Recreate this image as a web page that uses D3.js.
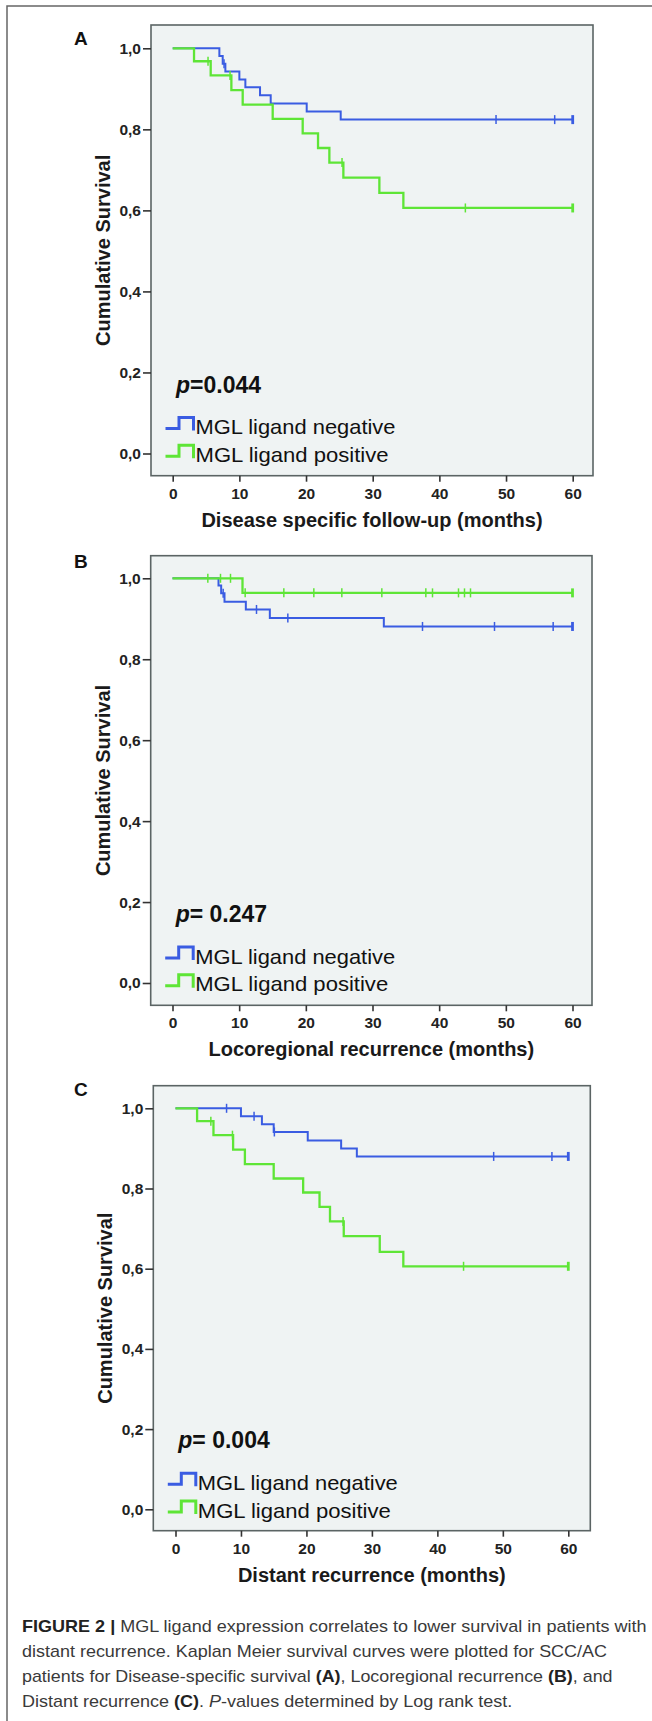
<!DOCTYPE html>
<html>
<head>
<meta charset="utf-8">
<script src="https://cdn.jsdelivr.net/npm/d3@7"></script>
<style>
  body { margin: 0; background: #fff; }
  text { font-family: Arial, "Liberation Sans", Helvetica, sans-serif; }
</style>
</head>
<body>
<div id="chart"></div>
<script>
// ---- data ----
const xTicks = [0, 10, 20, 30, 40, 50, 60];
const yTicks = [0, 0.2, 0.4, 0.6, 0.8, 1.0];
const yTickLabels = ['0,0', '0,2', '0,4', '0,6', '0,8', '1,0'];
const seriesNames = ['MGL ligand negative', 'MGL ligand positive'];
const panelLetters = ['A', 'B', 'C'];
const xTitles = ['Disease specific follow-up (months)', 'Locoregional recurrence (months)', 'Distant recurrence (months)'];
const pTexts = ['=0.044', '= 0.247', '= 0.004'];

// survival steps [month, cumulative survival] and censored times
const negA = [[0, 1], [7.0, 0.981], [7.5, 0.962], [7.9, 0.943], [10.0, 0.923], [10.9, 0.904], [13.1, 0.884], [14.7, 0.864], [20.1, 0.844], [25.2, 0.824]];
const negACensor = [7.7, 48.5, 57.3, 60];
const posA = [[0, 1], [3.2, 0.968], [5.7, 0.933], [8.8, 0.897], [10.5, 0.861], [15.0, 0.826], [19.5, 0.790], [21.8, 0.754], [23.5, 0.718], [25.6, 0.681], [31.0, 0.643], [34.6, 0.606]];
const posACensor = [5.3, 8.6, 25.4, 43.9, 60];

const negB = [[0, 1], [6.9, 0.982], [7.3, 0.963], [7.8, 0.942], [11.0, 0.923], [14.6, 0.902], [31.7, 0.881]];
const negBCensor = [7.6, 12.6, 17.3, 37.5, 48.3, 57.1, 60];
const posB = [[0, 1], [10.5, 0.964]];
const posBCensor = [5.3, 7.2, 8.7, 10.9, 16.7, 21.2, 25.4, 31.4, 38.0, 39.0, 42.9, 43.8, 44.7, 60];

const negC = [[0, 1], [10.0, 0.980], [13.2, 0.960], [15.0, 0.941], [20.2, 0.920], [25.3, 0.900], [27.7, 0.880]];
const negCCensor = [7.8, 12.0, 15.1, 48.6, 57.5, 60];
const posC = [[0, 1], [3.3, 0.968], [5.8, 0.933], [8.8, 0.897], [10.6, 0.861], [15.0, 0.825], [19.5, 0.790], [22.0, 0.754], [23.6, 0.718], [25.7, 0.681], [31.2, 0.642], [34.8, 0.606]];
const posCCensor = [5.4, 8.7, 25.6, 44.0, 60];

const caption = [
  [['FIGURE 2 | ', 'b'], ['MGL ligand expression correlates to lower survival in patients with', '']],
  [['distant recurrence. Kaplan Meier survival curves were plotted for SCC/AC', '']],
  [['patients for Disease-specific survival ', ''], ['(A)', 'b'], [', Locoregional recurrence ', ''], ['(B)', 'b'], [', and', '']],
  [['Distant recurrence ', ''], ['(C)', 'b'], ['. ', ''], ['P', 'i'], ['-values determined by Log rank test.', '']]
];

// ---- layout ----
const width = 652, height = 1721;
const blue = '#3a5ce2', green = '#5ee536';

const panels = [
  { neg: negA, negC: negACensor, pos: posA, posC: posACensor,
    left: 151, right: 593, top: 25, bottom: 475.7, x0: 172.7, x60: 572.7, y1: 48.3, y0: 453.5, letterY: 45 },
  { neg: negB, negC: negBCensor, pos: posB, posC: posBCensor,
    left: 150.7, right: 592, top: 555.7, bottom: 1005.3, x0: 172.5, x60: 572.5, y1: 578.3, y0: 983, letterY: 568 },
  { neg: negC, negC: negCCensor, pos: posC, posC: posCCensor,
    left: 153.3, right: 590.3, top: 1085.7, bottom: 1530.7, x0: 175.5, x60: 568.3, y1: 1108.3, y0: 1509.3, letterY: 1096 }
];

let svg = d3.select('#chart')
  .append('svg')
  .attr('width', width)
  .attr('height', height)
  .style('background', '#fff');

// outer figure frame (left + top)
svg.append('path')
  .attr('d', `M7,${height} V6 H${width}`)
  .attr('fill', 'none')
  .attr('stroke', '#666')
  .attr('stroke-width', 1.5);

// survival value at a time (step function)
function survAt(steps, t) {
  let s = 1;
  steps.forEach(d => { if (d[0] <= t) s = d[1]; });
  return s;
}

panels.forEach(function(p, i) {
  let x = d3.scaleLinear().domain([0, 60]).range([p.x0, p.x60]);
  let y = d3.scaleLinear().domain([0, 1]).range([p.y0, p.y1]);
  let g = svg.append('g');

  // plot area
  g.append('rect')
    .attr('x', p.left).attr('y', p.top)
    .attr('width', p.right - p.left).attr('height', p.bottom - p.top)
    .attr('fill', '#eff3f3')
    .attr('stroke', '#5b6464')
    .attr('stroke-width', 1.6);

  // axes
  let yAxis = g.append('g')
    .attr('transform', `translate(${p.left},0)`)
    .call(d3.axisLeft(y).tickValues(yTicks).tickFormat((d, k) => yTickLabels[k]).tickSize(8).tickPadding(2));
  let xAxis = g.append('g')
    .attr('transform', `translate(0,${p.bottom})`)
    .call(d3.axisBottom(x).tickValues(xTicks).tickSize(6).tickPadding(6));
  [yAxis, xAxis].forEach(a => {
    a.select('.domain').remove();
    a.selectAll('line').attr('stroke', '#333').attr('stroke-width', 1.6);
    a.selectAll('text')
      .attr('fill', '#222')
      .style('font-size', '15.5px')
      .style('font-weight', 'bold');
  });

  // axis titles
  g.append('text')
    .attr('x', (p.left + p.right) / 2)
    .attr('y', p.bottom + 51)
    .attr('text-anchor', 'middle')
    .style('font-size', '20px')
    .style('font-weight', 'bold')
    .attr('fill', '#1a1a1a')
    .text(xTitles[i]);

  g.append('text')
    .attr('transform', `translate(${p.left - 41},${(p.top + p.bottom) / 2}) rotate(-90)`)
    .attr('text-anchor', 'middle')
    .style('font-size', '20px')
    .style('font-weight', 'bold')
    .attr('fill', '#1a1a1a')
    .text('Cumulative Survival');

  // panel letter
  g.append('text')
    .attr('x', 74)
    .attr('y', p.letterY)
    .style('font-size', '19px')
    .style('font-weight', 'bold')
    .attr('fill', '#111')
    .text(panelLetters[i]);

  // curves: negative first, positive on top
  let line = d3.line()
    .x(d => x(d[0]))
    .y(d => y(d[1]))
    .curve(d3.curveStepAfter);

  [[p.neg, p.negC, blue, 2], [p.pos, p.posC, green, 2.3]].forEach(function(s) {
    let steps = s[0].concat([[60, s[0][s[0].length - 1][1]]]);
    g.append('path')
      .datum(steps)
      .attr('d', line)
      .attr('fill', 'none')
      .attr('stroke', s[2])
      .attr('stroke-width', s[3]);

    g.selectAll(null)
      .data(s[1])
      .enter()
      .append('line')
      .attr('x1', d => x(d)).attr('x2', d => x(d))
      .attr('y1', d => y(survAt(s[0], d)) - 4.5)
      .attr('y2', d => y(survAt(s[0], d)) + 4.5)
      .attr('stroke', s[2])
      .attr('stroke-width', (d) => d === 60 ? 2.8 : 1.5);
  });

  // p-value
  let pt = g.append('text')
    .attr('x', p.left + 25)
    .attr('y', y(0) - 61)
    .style('font-size', '23px')
    .style('font-weight', 'bold')
    .attr('fill', '#111');
  pt.append('tspan').style('font-style', 'italic').text('p');
  pt.append('tspan').text(pTexts[i]);

  // legend
  const legendWidths = [200, 193];
  [[blue, y(0) - 19.5], [green, y(0) + 8.3]].forEach(function(l, k) {
    let base = l[1];
    g.append('path')
      .attr('d', `M${p.left + 14.5},${base - 5.5} H${p.left + 28} V${base - 16.5} H${p.left + 42.5} V${base - 3.5}`)
      .attr('fill', 'none')
      .attr('stroke', l[0])
      .attr('stroke-width', 3);
    g.append('text')
      .attr('x', p.left + 44.5)
      .attr('y', base)
      .attr('textLength', legendWidths[k])
      .attr('lengthAdjust', 'spacingAndGlyphs')
      .style('font-size', '21px')
      .attr('fill', '#111')
      .text(seriesNames[k]);
  });
});

// caption
const capWidths = [624.6, 585, 590.5, 490.3];
caption.forEach(function(parts, i) {
  let t = svg.append('text')
    .attr('x', 22)
    .attr('y', 1632.3 + i * 25)
    .attr('textLength', capWidths[i])
    .attr('lengthAdjust', 'spacingAndGlyphs')
    .style('font-size', '17px')
    .attr('fill', '#3a3a3a');
  parts.forEach(function(pp) {
    let ts = t.append('tspan').text(pp[0]);
    if (pp[1] === 'b') ts.style('font-weight', 'bold').attr('fill', '#222');
    if (pp[1] === 'i') ts.style('font-style', 'italic');
  });
});
</script>
</body>
</html>
